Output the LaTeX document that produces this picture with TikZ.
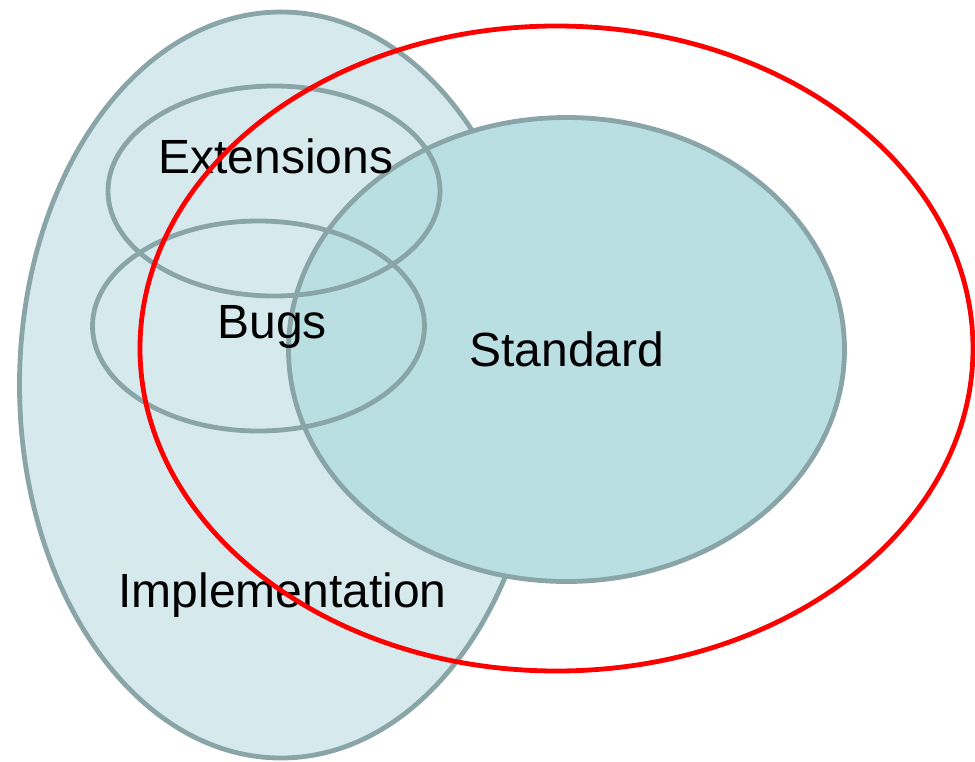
\documentclass[tikz,border=0pt]{standalone}
\usepackage{fontspec}
\setmainfont{Liberation Sans}
\definecolor{implfill}{HTML}{D6EAEE}
\definecolor{stdfill}{HTML}{B9DFE3}
\definecolor{setline}{HTML}{8AA5A8}
\definecolor{redline}{HTML}{FF0000}
\tikzset{
  setring/.style={draw=setline, line width=4.8pt},
  label/.style={font=\fontsize{48}{56}\selectfont, anchor=base, inner sep=0pt}
}
\begin{document}
\begin{tikzpicture}[x=1pt, y=-1pt]
  \useasboundingbox (0,0) rectangle (975,761);
  % implementation region
  \path[setring, fill=implfill] (281,385) ellipse [x radius=261.5, y radius=373];
  % standard region
  \path[setring, fill=stdfill] (566.5,349.5) ellipse [x radius=278, y radius=232];
  % extensions and bugs outlines
  \path[setring] (274,191) ellipse [x radius=166, y radius=105];
  \path[setring] (258.5,326) ellipse [x radius=166, y radius=105];
  % labels
  \node[label] (ext) at (276,173.3) {Extensions};
  \node[label] (bugs) at (272,338) {Bugs};
  \node[label] (std) at (566.7,366.7) {Standard};
  \node[label] (impl) at (282.5,607.7) {Implementation};
  % conforming programs
  \path[draw=redline, line width=4.8pt] (556.5,348.5) ellipse [x radius=416.5, y radius=322.5];
\end{tikzpicture}
\end{document}
